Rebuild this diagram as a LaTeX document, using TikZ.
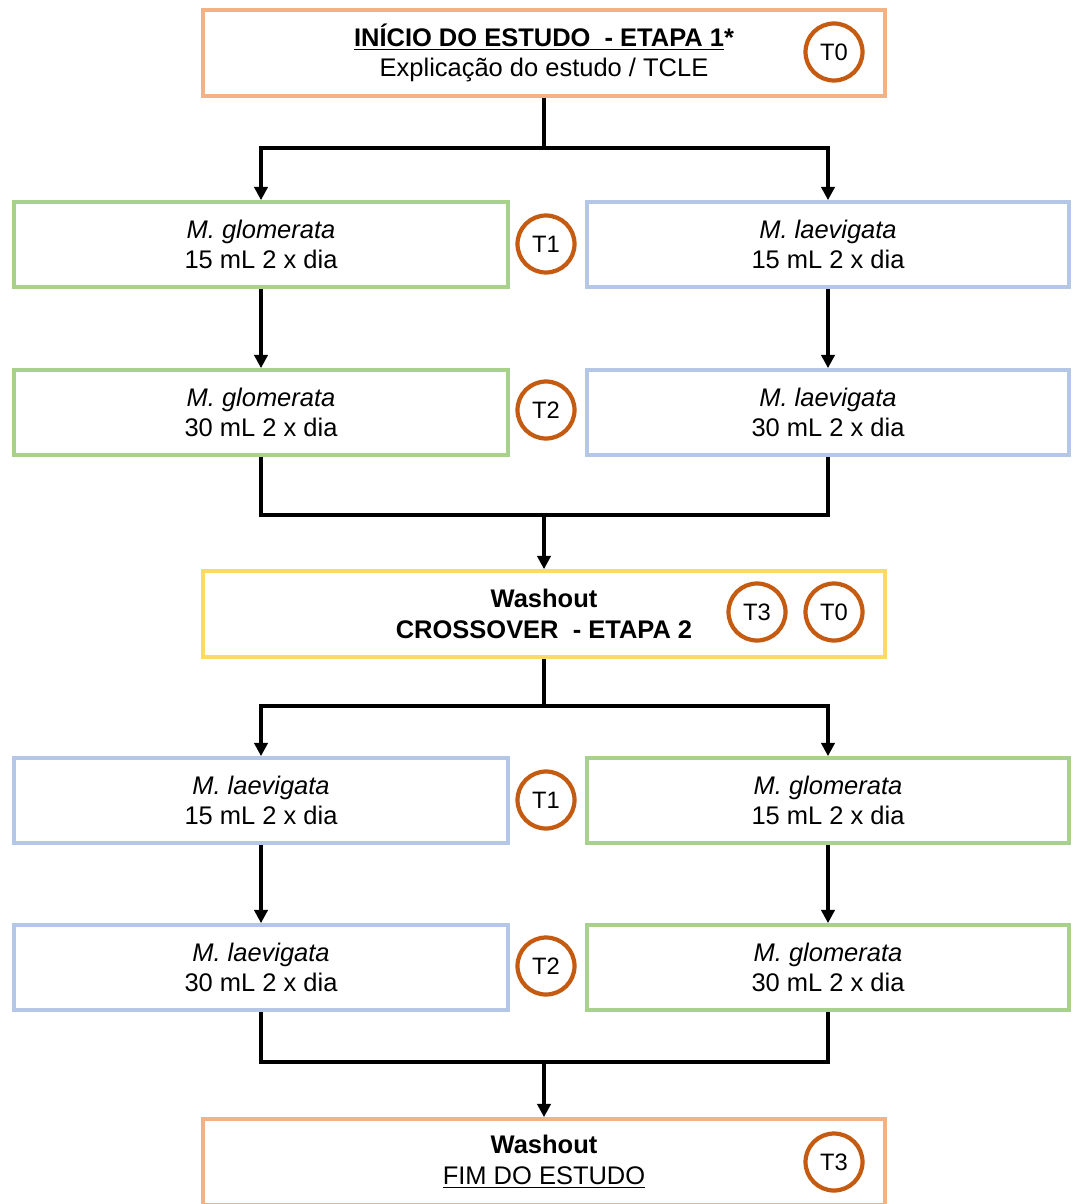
\documentclass[tikz,border=0pt]{standalone}
\usepackage{fontspec}
\setmainfont{Liberation Sans}
\usetikzlibrary{arrows.meta}

\definecolor{orangeline}{RGB}{244,177,131}
\definecolor{greenline}{RGB}{169,209,142}
\definecolor{blueline}{RGB}{180,199,231}
\definecolor{yellowline}{RGB}{255,217,102}
\definecolor{timering}{RGB}{197,90,17}

\tikzset{
  stagebox/.style={draw=#1, line width=2.1pt, fill=white, align=center,
    inner sep=0pt, font=\fontsize{14.5}{17.5}\selectfont},
  widebox/.style={stagebox=#1, minimum width=13.64cm, minimum height=1.72cm},
  leftbox/.style={stagebox=#1, minimum width=9.88cm, minimum height=1.7cm},
  rightbox/.style={stagebox=#1, minimum width=9.64cm, minimum height=1.7cm},
  tmark/.style={circle, draw=timering, line width=2.4pt, minimum size=1.14cm,
    inner sep=0pt, fill=white, font=\fontsize{13.5}{15}\selectfont},
  arr/.style={-{Triangle[length=7.5pt,width=7.5pt]}, line width=1.8pt},
  link/.style={line width=1.8pt}
}

\begin{document}
\begin{tikzpicture}
      \useasboundingbox (0,0) rectangle (21.44,-24.08);

      % stage boxes
      \node[widebox=orangeline] (start) at (10.88,-1.06)
        {\textbf{\underline{INÍCIO DO ESTUDO\ \ - ETAPA 1}*}\\Explicação do estudo / TCLE};
      \node[leftbox=greenline] (g1) at (5.22,-4.89) {\textit{M. glomerata}\\15 mL 2 x dia};
      \node[rightbox=blueline] (l1) at (16.56,-4.89) {\textit{M. laevigata}\\15 mL 2 x dia};
      \node[leftbox=greenline] (g2) at (5.22,-8.25) {\textit{M. glomerata}\\30 mL 2 x dia};
      \node[rightbox=blueline] (l2) at (16.56,-8.25) {\textit{M. laevigata}\\30 mL 2 x dia};
      \node[widebox=yellowline] (cross) at (10.88,-12.28)
        {\textbf{Washout}\\\textbf{CROSSOVER\ \ - ETAPA 2}};
      \node[leftbox=blueline] (l3) at (5.22,-16.01) {\textit{M. laevigata}\\15 mL 2 x dia};
      \node[rightbox=greenline] (g3) at (16.56,-16.01) {\textit{M. glomerata}\\15 mL 2 x dia};
      \node[leftbox=blueline] (l4) at (5.22,-19.35) {\textit{M. laevigata}\\30 mL 2 x dia};
      \node[rightbox=greenline] (g4) at (16.56,-19.35) {\textit{M. glomerata}\\30 mL 2 x dia};
      \node[widebox=orangeline] (finish) at (10.88,-23.24)
        {\textbf{Washout}\\\underline{FIM DO ESTUDO}};

      % time points
      \node[tmark] (t0a) at (16.68,-1.04) {T0};
      \foreach \n/\y/\t in {a/-4.88/T1, b/-8.2/T2, c/-16.0/T1, d/-19.32/T2}
        \node[tmark] (mid\n) at (10.92,\y) {\t};
      \node[tmark] (t3a) at (15.14,-12.24) {T3};
      \node[tmark] (t0b) at (16.68,-12.24) {T0};
      \node[tmark] (t3b) at (16.68,-23.24) {T3};

      % connectors
      \coordinate (split1) at (10.88,-2.96);
      \coordinate (merge1) at (10.88,-10.3);
      \coordinate (split2) at (10.88,-14.12);
      \coordinate (merge2) at (10.88,-21.24);

      \draw[link] (start.south) -- (split1);
      \draw[arr] (split1) -| (g1.north);
      \draw[arr] (split1) -| (l1.north);
      \foreach \a/\b in {g1/g2, l1/l2, l3/l4, g3/g4}
        \draw[arr] (\a) -- (\b);
      \draw[link] (g2.south) |- (merge1) -| (l2.south);
      \draw[arr] (merge1) -- (cross.north);

      \draw[link] (cross.south) -- (split2);
      \draw[arr] (split2) -| (l3.north);
      \draw[arr] (split2) -| (g3.north);
      \draw[link] (l4.south) |- (merge2) -| (g4.south);
      \draw[arr] (merge2) -- (finish.north);
\end{tikzpicture}
\end{document}
